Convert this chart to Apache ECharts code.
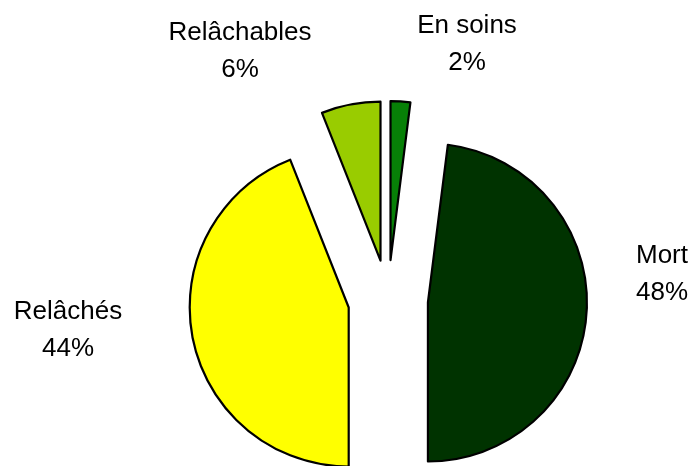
<!DOCTYPE html>
<html>
<head>
<meta charset="utf-8">
<script src="https://cdn.jsdelivr.net/npm/echarts@6/dist/echarts.min.js"></script>
<style>
  html, body { margin: 0; padding: 0; background: #fff; }
  #chart { width: 693px; height: 466px; }
</style>
</head>
<body>
<div id="chart"></div>
<script>
// clockwise from 12 o'clock
var categories = ['En soins', 'Mort', 'Relâchés', 'Relâchables'];
var values = [2, 48, 44, 6];
var colors = ['#078007', '#003300', '#ffff00', '#99cc00'];

// label block centres, placed like Excel did
var labelPos = [[467, 44], [662, 274], [68, 330], [240, 51]];

var total = values.reduce(function (a, b) { return a + b; }, 0);

var labels = categories.map(function (name, i) {
    return {
        type: 'text',
        x: labelPos[i][0],
        y: labelPos[i][1],
        style: {
            text: name + '\n' + Math.round(values[i] / total * 100) + '%',
            align: 'center',
            verticalAlign: 'middle',
            font: '26px "Liberation Sans", Arial, sans-serif',
            lineHeight: 37,
            fill: '#000'
        }
    };
});

var chart = echarts.init(document.getElementById('chart'));
chart.setOption({
    animation: false,
    graphic: labels,
    series: [{
        type: 'pie',
        center: [388, 300],
        radius: 159,
        startAngle: 90,
        clockwise: true,
        selectedMode: 'multiple',
        selectedOffset: 40,
        itemStyle: {
            borderColor: '#000',
            borderWidth: 2.2
        },
        emphasis: { disabled: true },
        label: { show: false },
        labelLine: { show: false },
        data: categories.map(function (name, i) {
            return {
                name: name,
                value: values[i],
                selected: true,
                itemStyle: { color: colors[i] }
            };
        })
    }]
});
</script>
</body>
</html>
